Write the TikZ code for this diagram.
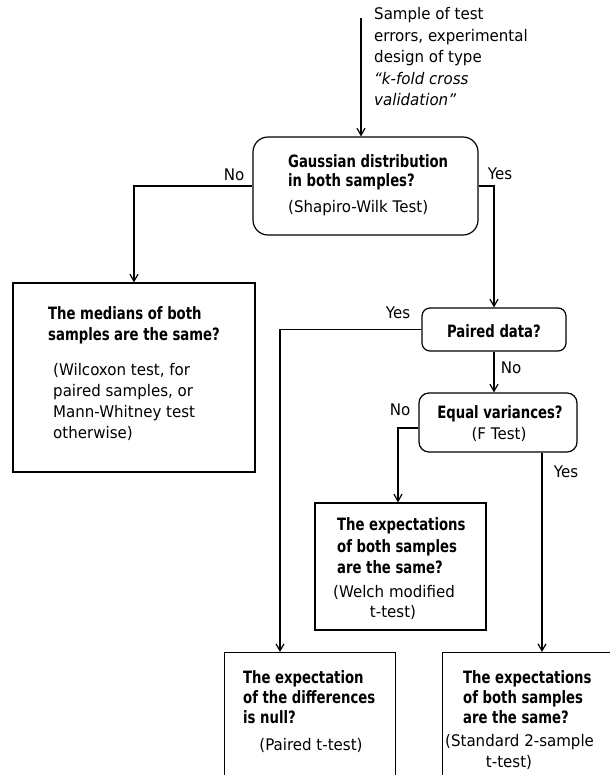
\documentclass[tikz,border=0pt]{standalone}
\usepackage{fontspec}
\setmainfont{DejaVu Sans}[FakeStretch=0.94]
\newfontfamily\condf{DejaVu Sans Condensed}[FakeStretch=0.865]
\usetikzlibrary{arrows.meta,calc}
\tikzset{
  box/.style={draw, line width=1.2pt, inner sep=0pt, rectangle},
  arr/.style={draw, line width=1.2pt, -{Straight Barb[length=7pt,width=8pt]}},
  lab/.style={inner sep=0pt, font=\fontsize{16}{18}\selectfont},
  rl/.style={lab, anchor=base west},
  rc/.style={lab, anchor=base},
  bl/.style={inner sep=0pt, font=\condf\bfseries\fontsize{17}{18}\selectfont, anchor=base west},
  bc/.style={bl, anchor=base},
}
\begin{document}
\begin{tikzpicture}[x=1pt,y=-1pt]
\useasboundingbox (0,0) rectangle (610,782);
\clip (0,0) rectangle (610,774);

% boxes
\node[box, rounded corners=15pt, minimum width=225pt, minimum height=98pt] (G) at (365.5,186) {};
\node[box, minimum width=242pt, minimum height=189pt] (M) at (134,377.5) {};
\node[box, rounded corners=8pt, minimum width=144pt, minimum height=43pt] (P) at (494,329.5) {};
\node[box, rounded corners=10pt, minimum width=158pt, minimum height=59pt] (E) at (498,422.5) {};
\node[box, minimum width=171pt, minimum height=127pt] (W) at (400.5,566.5) {};
\node[box, anchor=north west, minimum width=171pt, minimum height=160pt] (PT) at (224,652) {};
\node[box, anchor=north west, minimum width=200pt, minimum height=160pt] (S) at (442,652) {};

% connectors
\coordinate (src) at (361,18);
\draw[arr] (src) -- (src |- G.north);
\draw[arr] (G.west) -| (M.north);
\draw[arr] (G.east) -| (P.north);
\draw[arr] (P.west) -| ($(PT.north west)+(56,0)$);
\draw[arr] (P.south) -- (P.south |- E.north);
\draw[arr] ($(E.west)+(0,5.5)$) -| ($(W.north)+(-2.5,0)$);
\draw[arr] ($(E.south)+(44,0)$) -- ($(S.north west)+(100,0)$);

% branch labels
\node[rc] (lno1) at (234,180) {No};
\node[rc] (lyes1) at (500,179) {Yes};
\node[rc] (lyes2) at (398,318) {Yes};
\node[rc] (lno2) at (511,373) {No};
\node[rc] (lno3) at (400,415) {No};
\node[rc] (lyes3) at (566,477) {Yes};

% top text
\node[rl] (ta) at (374,19.5) {Sample of test};
\node[rl] (tb) at (374,41) {errors, experimental};
\node[rl] (tc) at (374,62.5) {design of type};
\node[rl] (td) at (374,84) {\itshape “k-fold cross};
\node[rl] (te) at (374,105.5) {\itshape validation”};

% Gaussian box text
\node[bl] (g1) at (288,167) {Gaussian distribution};
\node[bl] (g2) at (288,186) {in both samples?};
\node[rl] (g3) at (288,212) {(Shapiro-Wilk Test)};

% Medians box text
\node[bl] (m1) at (48,319) {The medians of both};
\node[bl] (m2) at (48,340) {samples are the same?};
\node[rl] (m3) at (53,375) {(Wilcoxon test, for};
\node[rl] (m4) at (53,396) {paired samples, or};
\node[rl] (m5) at (53,417) {Mann-Whitney test};
\node[rl] (m6) at (53,438) {otherwise)};

% Paired data
\node[bc] (p1) at (494,337) {Paired data?};

% Equal variances
\node[bc] (e1) at (500,418) {Equal variances?};
\node[rc] (e2) at (499,439) {(F Test)};

% Welch box
\node[bl] (w1) at (337,530) {The expectations};
\node[bl] (w2) at (337,552) {of both samples};
\node[bl] (w3) at (337,573) {are the same?};
\node[rc] (w4) at (394,597) {(Welch modified};
\node[rc] (w5) at (393,617) {t-test)};

% Paired t-test box
\node[bl] (pt1) at (243,683) {The expectation};
\node[bl] (pt2) at (243,703) {of the differences};
\node[bl] (pt3) at (243,723) {is null?};
\node[rc] (pt4) at (311,750) {(Paired t-test)};

% Standard box
\node[bl] (s1) at (463,683) {The expectations};
\node[bl] (s2) at (463,703) {of both samples};
\node[bl] (s3) at (463,723) {are the same?};
\node[rl] (s4) at (445,746) {(Standard 2-sample};
\node[rc] (s5) at (509,767) {t-test)};
\end{tikzpicture}
\end{document}
